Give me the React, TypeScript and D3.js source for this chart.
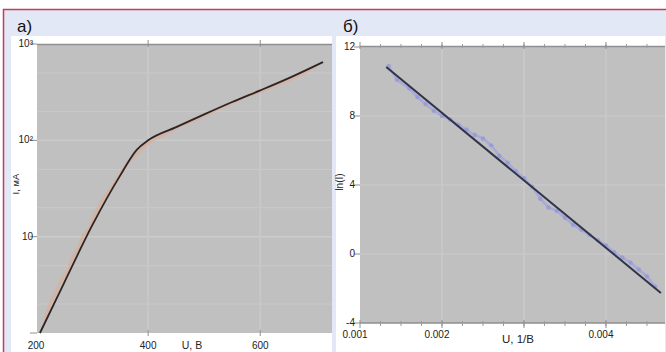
import React from "react";
import * as d3 from "d3";

// panel а): I(U), log scale
const fitU = [207, 250, 300, 350, 380, 400, 450, 500, 550, 600, 650, 712];
const fitI = [1, 3.3, 13, 43, 80, 100, 137, 186, 250, 330, 440, 650];
const measU = [215, 225, 235, 245, 255, 265, 275, 285, 295, 305, 315, 325, 335, 345, 355, 365, 375, 385, 395, 410, 425, 440, 455, 470, 485, 500, 520, 540, 560, 580, 600, 620, 640, 660, 680, 700];
const measI = [1.3, 2.0, 2.6, 3.5, 4.2, 6.0, 7.5, 10.5, 12, 17, 22, 27, 32, 40, 50, 60, 68, 78, 88, 102, 112, 125, 140, 152, 165, 180, 205, 235, 262, 295, 320, 360, 400, 450, 510, 590];
const aXTicks = [200, 400, 600];
const aYTicks = [1, 10, 100, 1000];

// panel б): ln(I) vs 1/U
const bU = [0.00135, 0.00145, 0.0016, 0.0017, 0.0018, 0.0019, 0.002, 0.0021, 0.0022, 0.0023, 0.0024, 0.0025, 0.0026, 0.0027, 0.0028, 0.0029, 0.003, 0.0031, 0.0032, 0.0033, 0.0034, 0.0035, 0.0036, 0.0037, 0.0038, 0.0039, 0.004, 0.0041, 0.0042, 0.0043, 0.0044, 0.0045, 0.0046];
const bLn = [10.9, 10.1, 9.6, 9.1, 8.7, 8.3, 8.0, 7.8, 7.5, 7.2, 6.9, 6.7, 6.3, 5.7, 5.3, 4.8, 4.4, 3.9, 3.2, 2.7, 2.5, 2.1, 1.7, 1.4, 1.1, 0.8, 0.5, 0.1, -0.2, -0.5, -0.9, -1.3, -1.9];
const bFitU = [0.00132, 0.00467];
const bFitLn = [10.84, -2.26];
const bXTicks = [0.001, 0.002, 0.003, 0.004];
const bXLabels = ["0.001", "0.002", "", "0.004"];
const bYTicks = [-4, 0, 4, 8, 12];

const FONT = "'Liberation Sans', Arial, sans-serif";

function PanelA() {
  const x = d3.scaleLinear().domain([200, 728]).range([36, 332]);
  const y = d3.scaleLog().domain([1, 1000]).range([333, 44]);
  const line = d3.line<[number, number]>().x(d => x(d[0])).y(d => y(d[1])).curve(d3.curveMonotoneX);
  const fit = fitU.map((u, i) => [u, fitI[i]] as [number, number]);
  const meas = measU.map((u, i) => [u, measI[i]] as [number, number]);
  const minor: number[] = [];
  [1, 10, 100].forEach(d => [2, 5].forEach(m => minor.push(d * m)));
  const labels: Record<number, string> = { 1: "", 10: "10", 100: "10²", 1000: "10³" };
  return (
    <g>
      <rect x={11} y={36} width={321} height={316} fill="#ffffff" />
      <rect x={37} y={44} width={295} height={289} fill="#c0c0c0" />
      {minor.map(v => (
        <line key={v} x1={37} x2={332} y1={y(v)} y2={y(v)} stroke="#c9c9c9" strokeWidth={1} />
      ))}
      {aYTicks.slice(1, 3).map(v => (
        <line key={v} x1={37} x2={332} y1={y(v)} y2={y(v)} stroke="#cbcbcb" strokeWidth={1.5} />
      ))}
      {aXTicks.slice(1).map(v => (
        <line key={v} x1={x(v)} x2={x(v)} y1={44} y2={333} stroke="#c9c9c9" strokeWidth={1.5} />
      ))}
      <line x1={37} x2={332} y1={44.5} y2={44.5} stroke="#8f8f8f" strokeWidth={1.5} />
      {aXTicks.slice(1).map(v => (
        <g key={v}>
          <line x1={x(v)} x2={x(v)} y1={40} y2={47} stroke="#8f8f8f" />
          <line x1={x(v)} x2={x(v)} y1={330} y2={336} stroke="#8f8f8f" />
        </g>
      ))}
      <path d={line(meas) || ""} fill="none" stroke="#e6a789" strokeWidth={3} opacity={0.55} />
      <path d={line(fit) || ""} fill="none" stroke="#2e2424" strokeWidth={1.8} />
      {aYTicks.map(v => (
        <g key={v}>
          <line x1={30} x2={37} y1={y(v)} y2={y(v)} stroke="#8f8f8f" />
          <text x={33} y={y(v) + 3} textAnchor="end" fontSize={10} fill="#222" fontFamily={FONT}>{labels[v]}</text>
        </g>
      ))}
      {aXTicks.map(v => (
        <text key={v} x={x(v)} y={349} textAnchor="middle" fontSize={10} fill="#222" fontFamily={FONT}>{v}</text>
      ))}
      <text x={192} y={349} textAnchor="middle" fontSize={10.5} fill="#222" fontFamily={FONT}>U, В</text>
      <text transform="translate(19,184) rotate(-90)" textAnchor="middle" fontSize={9.5} fill="#222" fontFamily={FONT}>I, мА</text>
    </g>
  );
}

function PanelB() {
  const x = d3.scaleLinear().domain([0.001, 0.00472]).range([360, 665]);
  const y = d3.scaleLinear().domain([-4, 12]).range([323, 47]);
  const line = d3.line<[number, number]>().x(d => x(d[0])).y(d => y(d[1]));
  const pts = bU.map((u, i) => [u, bLn[i]] as [number, number]);
  const fit = bFitU.map((u, i) => [u, bFitLn[i]] as [number, number]);
  const minorX = d3.range(0.00125, 0.0047, 0.00025);
  return (
    <g>
      <rect x={336} y={36} width={329} height={316} fill="#ffffff" />
      <rect x={360} y={46} width={305} height={277} fill="#c0c0c0" />
      {bYTicks.slice(1, 4).map(v => (
        <line key={v} x1={360} x2={665} y1={y(v)} y2={y(v)} stroke="#c9c9c9" strokeWidth={1.5} />
      ))}
      {bXTicks.slice(1).map(v => (
        <line key={v} x1={x(v)} x2={x(v)} y1={46} y2={323} stroke="#c9c9c9" strokeWidth={1.5} />
      ))}
      <line x1={360} x2={665} y1={46.5} y2={46.5} stroke="#8f8f8f" strokeWidth={1.5} />
      <line x1={360} x2={665} y1={323} y2={323} stroke="#8f8f8f" strokeWidth={1.5} />
      {minorX.map(v => (
        <g key={v}>
          <line x1={x(v)} x2={x(v)} y1={44} y2={48} stroke="#9a9a9a" />
          <line x1={x(v)} x2={x(v)} y1={321} y2={326} stroke="#9a9a9a" />
        </g>
      ))}
      {bXTicks.map(v => (
        <g key={v}>
          <line x1={x(v)} x2={x(v)} y1={42} y2={49} stroke="#8f8f8f" />
          <line x1={x(v)} x2={x(v)} y1={320} y2={328} stroke="#8f8f8f" />
        </g>
      ))}
      <path d={line(pts) || ""} fill="none" stroke="#a3a6da" strokeWidth={2.5} opacity={0.85} />
      {pts.map((p, i) => (
        <circle key={i} cx={x(p[0])} cy={y(p[1])} r={2.2} fill="#969ad8" opacity={0.85} />
      ))}
      <path d={line(fit) || ""} fill="none" stroke="#2f3448" strokeWidth={2} />
      {bYTicks.map(v => (
        <g key={v}>
          <line x1={354} x2={360} y1={y(v)} y2={y(v)} stroke="#8f8f8f" />
          <text x={355} y={y(v) + 3} textAnchor="end" fontSize={10} fill="#222" fontFamily={FONT}>{v}</text>
        </g>
      ))}
      {bXTicks.map((v, i) => (
        <text key={v} x={x(v) - 5} y={338} textAnchor="middle" fontSize={10} fill="#222" fontFamily={FONT}>{bXLabels[i]}</text>
      ))}
      <text x={518} y={343} textAnchor="middle" fontSize={11.5} fill="#222" fontFamily={FONT}>U, 1/В</text>
      <text transform="translate(343,182) rotate(-90)" textAnchor="middle" fontSize={10} fill="#222" fontFamily={FONT}>ln(I)</text>
    </g>
  );
}

export default function App() {
  return (
    <svg width={666} height={352} style={{ position: "absolute", left: 0, top: 0 }}>
      <rect x={0} y={0} width={666} height={352} fill="#ffffff" />
      <rect x={4} y={10} width={662} height={342} fill="#e2e8f5" />
      <line x1={3} x2={666} y1={9.5} y2={9.5} stroke="#c53a62" strokeWidth={1.5} />
      <line x1={3.5} x2={3.5} y1={9} y2={352} stroke="#c53a62" strokeWidth={1.5} />
      <text x={17} y={32} fontSize={17} fill="#111" fontFamily={FONT}>а)</text>
      <text x={343} y={32} fontSize={17} fill="#111" fontFamily={FONT}>б)</text>
      <PanelA />
      <PanelB />
    </svg>
  );
}
